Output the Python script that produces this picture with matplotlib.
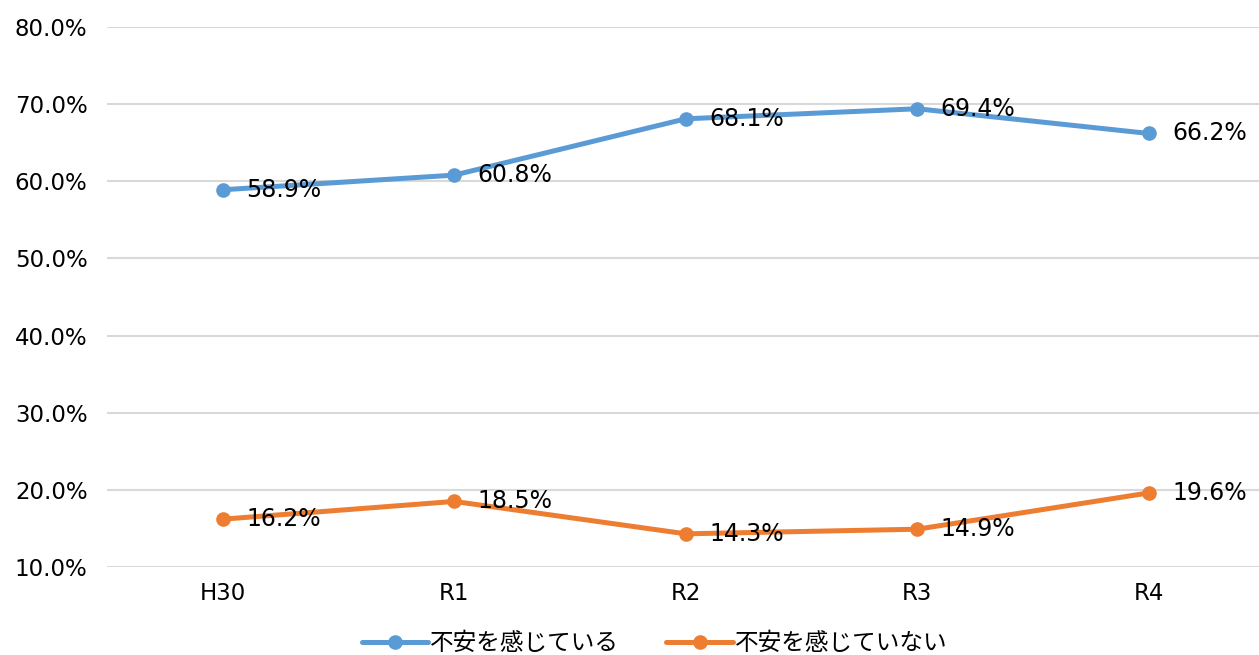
import matplotlib.pyplot as plt

plt.rcParams['font.family'] = ['DejaVu Sans', 'Noto Sans CJK JP']

years = ['H30', 'R1', 'R2', 'R3', 'R4']
anxious = [58.9, 60.8, 68.1, 69.4, 66.2]
not_anxious = [16.2, 18.5, 14.3, 14.9, 19.6]
series_names = ['不安を感じている', '不安を感じていない']

fig = plt.figure(figsize=(12.59, 6.55), dpi=100)
# axes run a little past the right edge, so the last category sits near it
ax = fig.add_axes([107 / 1259, 1 - 567 / 655, 1157.5 / 1259, (567 - 27) / 655])

x = range(len(years))
for vals, color, name in [(anxious, '#5B9BD5', series_names[0]),
                          (not_anxious, '#ED7D31', series_names[1])]:
    ax.plot(x, vals, color=color, lw=3.6, marker='o', ms=9.5, label=name,
            solid_capstyle='round')
    for i, v in zip(x, vals):
        ax.annotate(f'{v:.1f}%', (i, v), xytext=(17, 0), textcoords='offset points',
                    va='center', ha='left', fontsize=17, color='#000000')

ax.set_xlim(-0.5, 4.5)
ax.set_ylim(10, 80)
ax.set_yticks(range(10, 81, 10))
ax.set_yticklabels([f'{t:.1f}%' for t in range(10, 81, 10)])
ax.set_xticks(list(x))
ax.set_xticklabels(years)
ax.tick_params(axis='both', length=0, labelsize=16.5, colors='#000000')
ax.tick_params(axis='x', pad=11)
ax.tick_params(axis='y', pad=14)
ax.grid(axis='y', color='#D9D9D9', lw=1.5)
ax.set_axisbelow(True)
for s in ax.spines.values():
    s.set_visible(False)

fig.legend(loc='lower center', bbox_to_anchor=(0.52, -0.033), ncol=2, frameon=False,
           prop={'family': ['Noto Sans CJK JP', 'DejaVu Sans'], 'size': 17},
           handlelength=2.8, columnspacing=2.0, handletextpad=0.1)

fig.savefig('out.png', dpi=100)
